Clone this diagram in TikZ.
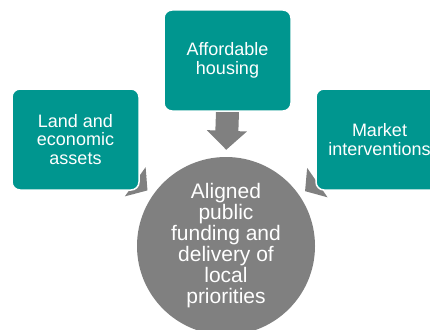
\documentclass[tikz,border=0pt]{standalone}
\usepackage{fontspec}
\setmainfont{Liberation Sans}
\usepackage{tikz}
\usetikzlibrary{arrows.meta,positioning,backgrounds,calc}
\definecolor{TealBox}{RGB}{0,150,143}
\definecolor{HubGrey}{RGB}{128,128,128}

\begin{document}
\begin{tikzpicture}[x=1pt,y=-1pt,
    theme/.style={shape=rectangle,rounded corners=8pt,fill=TealBox,draw=white,line width=1.5pt,
      minimum width=127pt,minimum height=101pt,text=white,align=center,inner sep=2pt,
      font=\fontsize{18}{18.5}\selectfont},
    hub/.style={shape=circle,fill=HubGrey,minimum size=178pt,inner sep=0pt,text=white,
      align=center,font=\fontsize{21}{21}\selectfont},
    feed/.style={draw=HubGrey,line width=23pt,-{Triangle[length=19pt,width=39pt]}},
    sidefeed/.style={feed,-{Triangle[length=15pt,width=35pt]},shorten >=7pt}]
  \useasboundingbox (0,0) rectangle (430,329);
  \node[hub] (hub) at (226,246) {Aligned\\public\\funding and\\delivery of\\local\\priorities};
  \node[theme] (housing) at (227.5,60.5) {Affordable\\housing};
  \node[theme] (land) at (75.5,139.5) {Land and\\economic\\assets};
  \node[theme] (market) at (379.5,139.5) {Market\\interventions};
  % arrows sit behind the boxes
  \begin{scope}[on background layer]
    \draw[feed,shorten >=7pt] (housing.south) -- (hub.north);
    \draw[sidefeed] (land) -- (hub);
    \draw[sidefeed] (market) -- (hub);
  \end{scope}
\end{tikzpicture}
\end{document}
